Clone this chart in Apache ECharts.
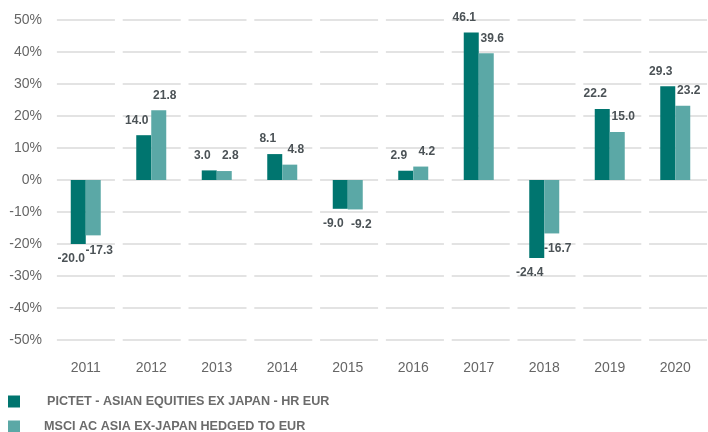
<!DOCTYPE html>
<html lang="en">
<head>
    <meta charset="UTF-8">
    <title>Annual performance</title>
    <style>
        html, body { margin: 0; padding: 0; background: #fff; }
        #container { width: 708px; height: 432px; }
    </style>
    <script src="https://cdn.jsdelivr.net/npm/echarts@6/dist/echarts.min.js"></script>
</head>
<body>
<div id="container"></div>
<script type="text/javascript">
    // data
    var years = ['2011', '2012', '2013', '2014', '2015', '2016', '2017', '2018', '2019', '2020'];
    var fundName = 'PICTET - ASIAN EQUITIES EX JAPAN - HR EUR';
    var indexName = 'MSCI AC ASIA EX-JAPAN HEDGED TO EUR';
    var fundValues = [-20.0, 14.0, 3.0, 8.1, -9.0, 2.9, 46.1, -24.4, 22.2, 29.3];
    var indexValues = [-17.3, 21.8, 2.8, 4.8, -9.2, 4.2, 39.6, -16.7, 15.0, 23.2];

    var font = 'Liberation Sans';
    var myChart = echarts.init(document.getElementById('container'));

    function valueLabel(dx) {
        return {
            show: true,
            position: 'outside',
            distance: 9,
            offset: [dx, 0],
            fontFamily: font,
            fontSize: 12,
            fontWeight: 'bold',
            color: '#4b5256',
            formatter: function (p) { return p.value.toFixed(1); }
        };
    }

    // one legend per row so both rows sit where the reference has them
    function legendRow(name, top, pad) {
        return {
            left: 8,
            top: top,
            padding: 0,
            icon: 'rect',
            itemWidth: 12,
            itemHeight: 12,
            data: [name],
            textStyle: {
                fontFamily: font,
                fontSize: 12.6,
                fontWeight: 'bold',
                color: '#6b6b6b',
                padding: [0, 0, 0, pad]
            }
        };
    }

    var option = {
        animation: false,
        backgroundColor: '#fff',
        grid: { left: 53, right: -3, top: 20, bottom: 92 },
        legend: [
            legendRow(fundName, 395, 22),
            legendRow(indexName, 420, 19)
        ],
        xAxis: {
            type: 'category',
            data: years,
            axisLine: { show: false },
            axisTick: { show: false },
            axisLabel: { margin: 21, fontFamily: font, fontSize: 14, color: '#666' }
        },
        yAxis: {
            type: 'value',
            min: -50,
            max: 50,
            interval: 10,
            axisLabel: {
                formatter: '{value}%',
                margin: 11,
                fontFamily: font,
                fontSize: 14,
                color: '#666'
            },
            splitLine: {
                lineStyle: {
                    color: '#e3e3e3',
                    width: 2,
                    type: [58, 7.8],
                    dashOffset: 61.9
                }
            }
        },
        series: [
            {
                name: fundName,
                type: 'bar',
                data: fundValues,
                barWidth: 15,
                barGap: 0,
                itemStyle: { color: '#00756f' },
                label: valueLabel(-7)
            },
            {
                name: indexName,
                type: 'bar',
                data: indexValues,
                barWidth: 15,
                itemStyle: { color: '#5ba8a6' },
                label: valueLabel(6)
            }
        ]
    };

    myChart.setOption(option);
</script>
</body>
</html>
